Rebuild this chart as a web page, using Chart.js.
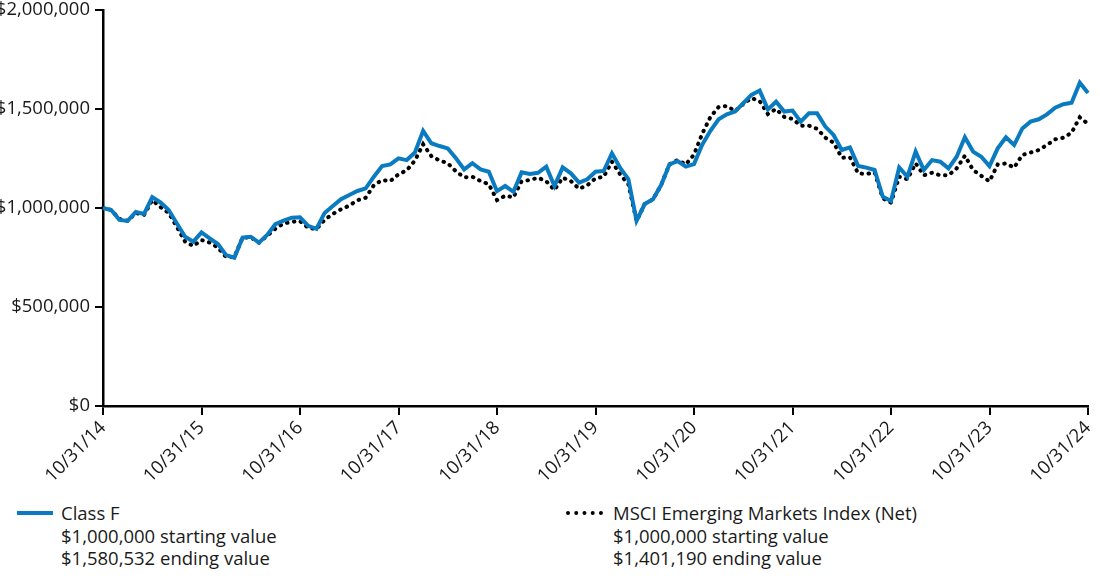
<!DOCTYPE html>
<html>
<head>
<meta charset="utf-8">
<script src="https://cdn.jsdelivr.net/npm/chart.js@4"></script>
<style>
  body { margin: 0; background: #fff; font-family: 'Open Sans', sans-serif; color: #1a1a1a; }
  #wrap { position: relative; width: 1100px; height: 578px; }
  #chart { position: absolute; left: 0; top: 0; }
  .legend { position: absolute; top: 502px; font-size: 18.5px; line-height: 22.5px; }
  .legend .swatch { position: absolute; left: 0; top: 9px; width: 36px; }
  .legend .txt { position: absolute; white-space: nowrap; }
</style>
</head>
<body>
<div id="wrap">
  <canvas id="chart" width="1100" height="480"></canvas>
  <div class="legend" style="left:17px">
    <div class="swatch" style="border-top:4px solid #0b7bc1"></div>
    <div class="txt" style="left:44px">Class F<br>$1,000,000 starting value<br>$1,580,532 ending value</div>
  </div>
  <div class="legend" style="left:566px">
    <div class="swatch" style="border-top:4px dotted #000; width:37px"></div>
    <div class="txt" style="left:47px">MSCI Emerging Markets Index (Net)<br>$1,000,000 starting value<br>$1,401,190 ending value</div>
  </div>
</div>
<script>
// Valeurs mensuelles (fin de mois), 10/31/14 -> 10/31/24
const yearLabels = ['10/31/14', '10/31/15', '10/31/16', '10/31/17', '10/31/18', '10/31/19',
                    '10/31/20', '10/31/21', '10/31/22', '10/31/23', '10/31/24'];

const classF = [
    1000000, 990000, 940000, 935000, 980000, 970000, 1055000, 1028000, 990000, 922000, 855000, 830000,
    877000, 847000, 818000, 762000, 749000, 850000, 855000, 825000, 864000, 918000, 936000, 951000,
    953000, 910000, 895000, 975000, 1010000, 1044000, 1066000, 1086000, 1099000, 1158000, 1212000, 1220000,
    1251000, 1242000, 1280000, 1390000, 1327000, 1313000, 1301000, 1251000, 1195000, 1226000, 1195000, 1183000,
    1085000, 1111000, 1082000, 1180000, 1172000, 1178000, 1209000, 1111000, 1205000, 1175000, 1128000, 1145000,
    1183000, 1187000, 1276000, 1203000, 1146000, 935000, 1020000, 1044000, 1116000, 1220000, 1237000, 1209000,
    1222000, 1320000, 1390000, 1448000, 1473000, 1487000, 1529000, 1571000, 1593000, 1498000, 1537000, 1487000,
    1492000, 1436000, 1478000, 1478000, 1411000, 1369000, 1293000, 1306000, 1212000, 1204000, 1192000, 1057000,
    1035000, 1205000, 1158000, 1285000, 1192000, 1242000, 1234000, 1200000, 1259000, 1357000, 1285000, 1259000,
    1212000, 1301000, 1357000, 1318000, 1402000, 1436000, 1448000, 1473000, 1507000, 1524000, 1532000, 1633000,
    1580532
];

const msci = [
    1000000, 990000, 945000, 935000, 975000, 965000, 1040000, 1005000, 975000, 905000, 830000, 808000,
    838000, 825000, 800000, 752000, 752000, 850000, 852000, 825000, 860000, 895000, 922000, 930000,
    934000, 900000, 893000, 940000, 970000, 993000, 1012000, 1039000, 1052000, 1115000, 1141000, 1136000,
    1170000, 1190000, 1240000, 1322000, 1262000, 1240000, 1226000, 1185000, 1155000, 1158000, 1136000, 1120000,
    1040000, 1062000, 1054000, 1136000, 1141000, 1153000, 1135000, 1091000, 1153000, 1136000, 1097000, 1115000,
    1150000, 1158000, 1234000, 1170000, 1120000, 935000, 1020000, 1044000, 1116000, 1220000, 1242000, 1220000,
    1270000, 1375000, 1460000, 1510000, 1515000, 1490000, 1525000, 1555000, 1540000, 1475000, 1500000, 1460000,
    1450000, 1416000, 1416000, 1400000, 1355000, 1330000, 1254000, 1256000, 1175000, 1172000, 1180000, 1049000,
    1027000, 1158000, 1145000, 1226000, 1165000, 1178000, 1165000, 1165000, 1200000, 1264000, 1192000, 1162000,
    1135000, 1220000, 1225000, 1204000, 1268000, 1280000, 1293000, 1318000, 1347000, 1355000, 1380000, 1458000,
    1425000
];

const yTicks = [0, 500000, 1000000, 1500000, 2000000];

// Étiquettes mensuelles (seules les fins d'octobre sont affichées)
const months = classF.map((v, i) => {
    const m = (9 + i) % 12;
    const y = 14 + Math.floor((9 + i) / 12);
    const d = new Date(2000 + y, m + 1, 0).getDate();
    return String(m + 1).padStart(2, '0') + '/' + d + '/' + y;
});

const font = { family: "'Open Sans', sans-serif", size: 18.5 };

new Chart(document.getElementById('chart'), {
    type: 'line',
    data: {
        labels: months,
        datasets: [{
            label: 'Class F',
            data: classF,
            borderColor: '#0b7bc1',
            borderWidth: 4,
            pointRadius: 0,
            tension: 0
        }, {
            label: 'MSCI Emerging Markets Index (Net)',
            data: msci,
            borderColor: '#000',
            borderWidth: 4,
            borderDash: [0.5, 6.5],
            borderCapStyle: 'round',
            pointRadius: 0,
            tension: 0
        }]
    },
    options: {
        responsive: false,
        animation: false,
        layout: { padding: { top: 10, right: 12, left: 0, bottom: 0 } },
        plugins: { legend: { display: false }, tooltip: { enabled: false } },
        scales: {
            x: {
                offset: false,
                afterFit: s => { s.height = 74; s.paddingLeft = 0; s.paddingRight = 0; },
                grid: { drawOnChartArea: false, drawTicks: true, tickLength: 9, color: '#000', lineWidth: 2 },
                border: { color: '#000', width: 2.5 },
                ticks: {
                    autoSkip: false,
                    maxRotation: 45,
                    minRotation: 45,
                    padding: 2,
                    color: '#1a1a1a',
                    font: font,
                    callback: function(val, i) {
                        return i % 12 === 0 ? yearLabels[i / 12] : null;
                    }
                }
            },
            y: {
                min: 0,
                max: 2000000,
                afterFit: s => { s.width = 103; s.paddingTop = 0; s.paddingBottom = 0; },
                afterBuildTicks: s => { s.ticks = yTicks.map(v => ({ value: v })); },
                grid: { drawOnChartArea: false, drawTicks: true, tickLength: 8, color: '#000', lineWidth: 2 },
                border: { color: '#000', width: 2.5 },
                ticks: {
                    padding: 5,
                    color: '#1a1a1a',
                    font: font,
                    callback: v => '$' + v.toLocaleString('en-US')
                }
            }
        }
    }
});
</script>
</body>
</html>
